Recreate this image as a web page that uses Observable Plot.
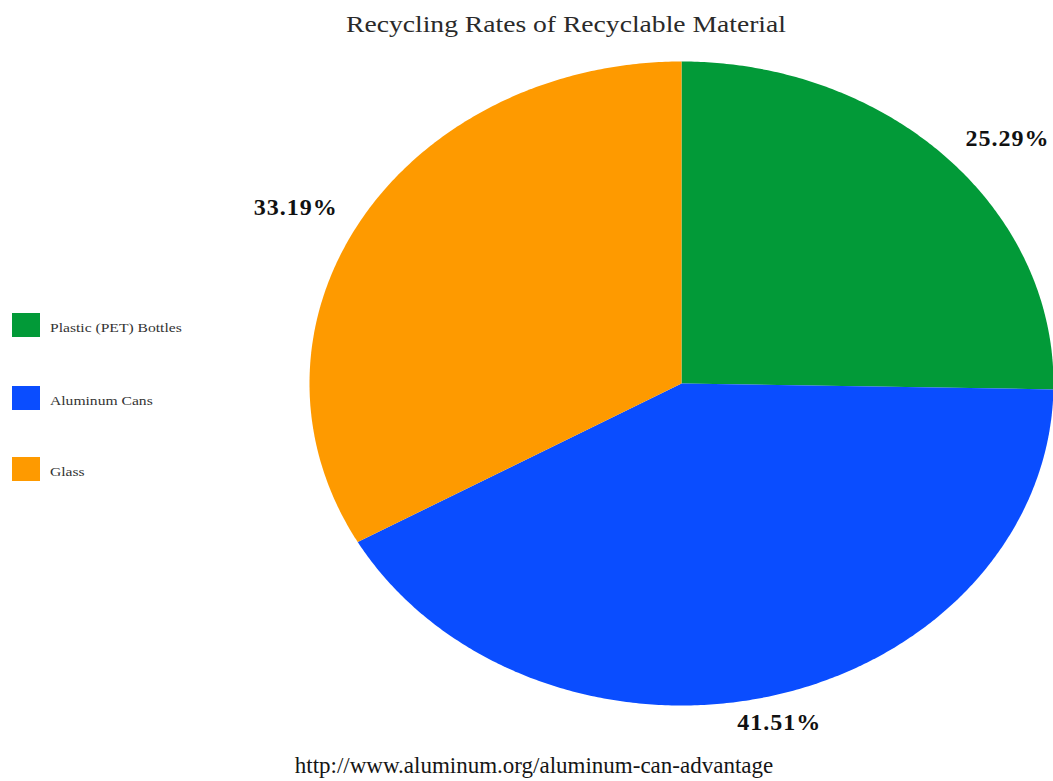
<!DOCTYPE html>
<html>
<head>
<meta charset="utf-8">
<script src="https://cdn.jsdelivr.net/npm/d3@7"></script>
<script src="https://cdn.jsdelivr.net/npm/@observablehq/plot@0.6"></script>
<style>
  html, body { margin: 0; padding: 0; background: #fff; }
  #wrap { position: relative; width: 1053px; height: 781px; overflow: hidden; font-family: "Liberation Serif", "DejaVu Serif", serif; }
  #wrap svg { position: absolute; left: 0; top: 0; }
  .title { position: absolute; left: 366px; width: 400px; top: 12px; text-align: center; font-size: 23px; color: #2a2a2a; white-space: nowrap; transform: scaleX(1.2); transform-origin: 200px 0; }
  .caption { position: absolute; left: 0; width: 1068px; top: 753px; text-align: center; font-size: 23px; color: #151515; white-space: nowrap; }
  .legend { position: absolute; left: 12px; top: 313px; }
  .item { position: absolute; left: 0; height: 25px; white-space: nowrap; }
  .sw { position: absolute; left: 0; top: 0; width: 28px; height: 24px; }
  .lab { position: absolute; left: 38px; top: 7px; font-size: 13px; color: #333; transform: scaleX(1.2); transform-origin: 0 0; }
</style>
</head>
<body>
<div id="wrap"></div>
<script>
const categories = ["Plastic (PET) Bottles", "Aluminum Cans", "Glass"];
const values = [25.29, 41.51, 33.19];
const valueLabels = ["25.29%", "41.51%", "33.19%"];
const colors = ["#029a38", "#0a4dff", "#fe9a00"];

const data = categories.map((c, i) => ({category: c, value: values[i], label: valueLabels[i]}));
const arcs = d3.pie().sort(null).value(d => d.value)(data);

// polygon outlines for each slice (unit circle, y up, clockwise from top)
const pts = [];
arcs.forEach(a => {
  const c = a.data.category;
  pts.push({category: c, x: 0, y: 0});
  const n = Math.max(2, Math.ceil((a.endAngle - a.startAngle) / (Math.PI / 360)));
  for (let k = 0; k <= n; k++) {
    const t = a.startAngle + (a.endAngle - a.startAngle) * k / n;
    pts.push({category: c, x: Math.sin(t), y: Math.cos(t)});
  }
  pts.push({category: c, x: 0, y: 0});
});

const labelPts = arcs.map(a => {
  const m = (a.startAngle + a.endAngle) / 2;
  const s = Math.sin(m);
  return {
    label: a.data.label,
    x: 1.07 * s,
    y: 1.085 * Math.cos(m),
    anchor: s > 0.5 ? "start" : s < -0.5 ? "end" : "middle"
  };
});

const labelMark = anchor => Plot.text(labelPts.filter(d => d.anchor === anchor), {
  x: "x", y: "y", text: "label", textAnchor: anchor,
  fontSize: 24, fontWeight: "bold", fill: "#111"
});

const chart = Plot.plot({
  width: 1053,
  height: 781,
  margin: 0,
  x: {domain: [-1, 1], range: [309, 1053], axis: null},
  y: {domain: [-1, 1], range: [705, 61], axis: null},
  color: {domain: categories, range: colors},
  style: {background: "transparent", fontFamily: "Liberation Serif, serif"},
  marks: [
    Plot.line(pts, {x: "x", y: "y", z: "category", fill: "category", stroke: null, curve: "linear"}),
    labelMark("start"),
    labelMark("middle"),
    labelMark("end")
  ]
});
d3.select(chart).selectAll("text").attr("letter-spacing", "1px");

const wrap = document.getElementById("wrap");
wrap.appendChild(chart);

const title = document.createElement("div");
title.className = "title";
title.textContent = "Recycling Rates of Recyclable Material";
wrap.appendChild(title);

const cap = document.createElement("div");
cap.className = "caption";
cap.textContent = "http://www.aluminum.org/aluminum-can-advantage";
wrap.appendChild(cap);

const legend = document.createElement("div");
legend.className = "legend";
const offsets = [0, 73, 144];
categories.forEach((c, i) => {
  const it = document.createElement("div");
  it.className = "item";
  it.style.top = offsets[i] + "px";
  const sw = document.createElement("div");
  sw.className = "sw";
  sw.style.background = colors[i];
  const lb = document.createElement("span");
  lb.className = "lab";
  lb.textContent = c;
  it.appendChild(sw); it.appendChild(lb);
  legend.appendChild(it);
});
wrap.appendChild(legend);
</script>
</body>
</html>
